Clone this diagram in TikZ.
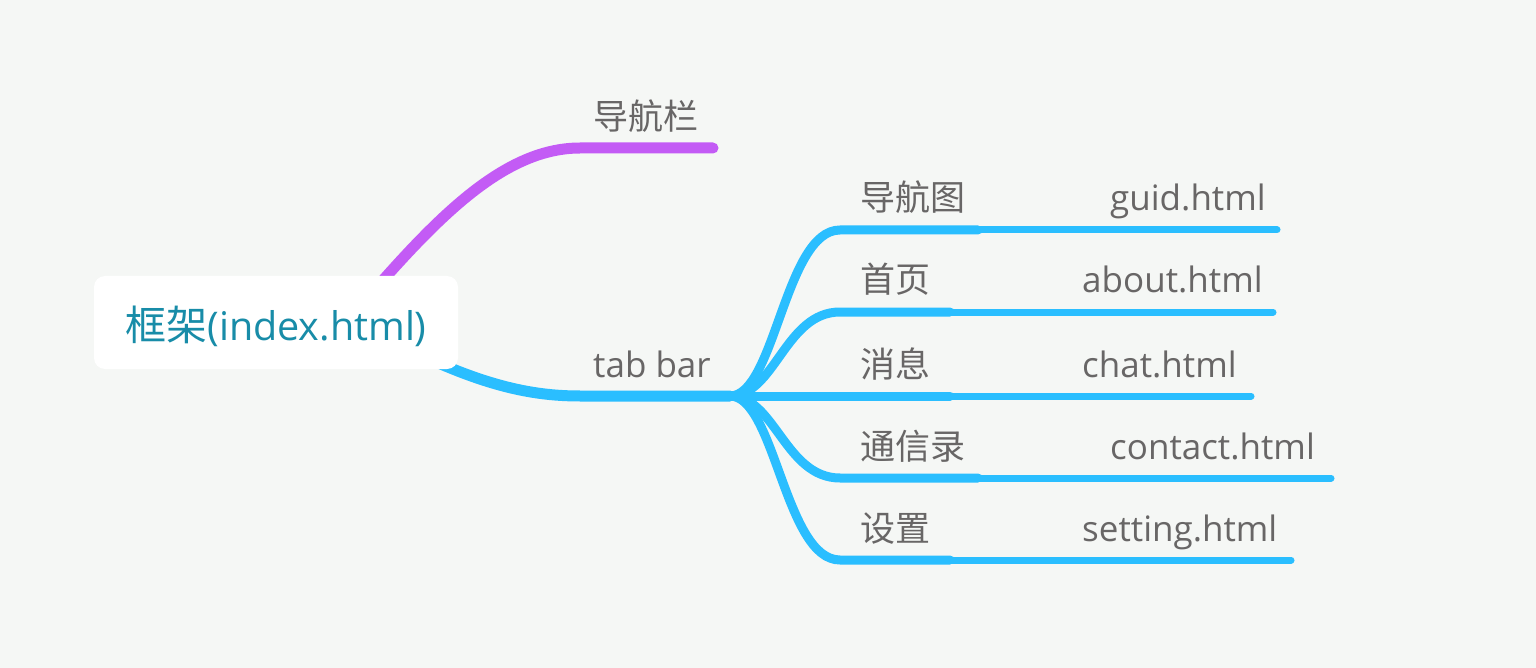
\documentclass[tikz,border=0pt]{standalone}
\usepackage{fontspec}
\setmainfont{Open Sans}
\newfontfamily\cjk{Noto Sans CJK SC}
\definecolor{bgc}{RGB}{245,247,245}
\definecolor{roottxt}{RGB}{24,140,168}
\definecolor{txtgray}{RGB}{104,102,102}
\definecolor{navpurple}{RGB}{195,91,245}
\definecolor{tabblue}{RGB}{42,190,255}
\pgfdeclarelayer{bglayer}
\pgfdeclarelayer{lines}
\pgfsetlayers{bglayer,lines,main}
\tikzset{
  rootbox/.style={fill=white, rounded corners=11pt, minimum width=364pt, minimum height=93pt,
    inner sep=0pt, text=roottxt, text height=40pt, text depth=5pt, font=\fontsize{39.5}{44}\selectfont},
  lbl/.style={anchor=base west, inner sep=0pt, text=txtgray, font=\fontsize{35}{40}\selectfont},
  cnlbl/.style={lbl, font=\fontsize{35}{40}\selectfont\cjk},
  purpleline/.style={draw=navpurple, line width=11pt, line cap=round},
  blueline/.style={draw=tabblue, line width=11pt, line cap=round},
  childline/.style={draw=tabblue, line width=9pt, line cap=round},
  leafline/.style={draw=tabblue, line width=7pt, line cap=round}
}
\begin{document}
\begin{tikzpicture}[x=1pt,y=-1pt]
\begin{pgfonlayer}{bglayer}
\fill[bgc] (0,0) rectangle (1536,668);
\end{pgfonlayer}
\useasboundingbox (0,0) rectangle (1536,668);

% nodes
\node[rootbox] (root) at (276,322.5) {{\cjk\fontsize{41}{44}\selectfont 框架}(index.html)};
\node[cnlbl] (nav) at (593,130) {导航栏};
\node[lbl] (tab) at (593,377) {tab bar};

\node[cnlbl] (c1) at (860,211) {导航图};
\node[cnlbl] (c2) at (860,293) {首页};
\node[cnlbl] (c3) at (860,377) {消息};
\node[cnlbl] (c4) at (860,459) {通信录};
\node[cnlbl] (c5) at (860,541) {设置};

\node[lbl] (g1) at (1110,211) {guid.html};
\node[lbl] (g2) at (1082,293) {about.html};
\node[lbl] (g3) at (1082,377) {chat.html};
\node[lbl] (g4) at (1110,459) {contact.html};
\node[lbl] (g5) at (1082,541) {setting.html};

% connector coordinates
\coordinate (navS) at (350,318);
\coordinate (navL) at (580,148);
\coordinate (navR) at (713,148);
\coordinate (tabS) at (400,345);
\coordinate (tabL) at (580,396);
\coordinate (fork) at (730,396);

\coordinate (cL1) at (840,230); \coordinate (cR1) at (978,230); \coordinate (gR1) at (1277,230);
\coordinate (cL2) at (840,312); \coordinate (cR2) at (950,312); \coordinate (gR2) at (1273,312);
\coordinate (cL3) at (840,396); \coordinate (cR3) at (950,396); \coordinate (gR3) at (1251,396);
\coordinate (cL4) at (840,478); \coordinate (cR4) at (978,478); \coordinate (gR4) at (1331,478);
\coordinate (cL5) at (840,560); \coordinate (cR5) at (950,560); \coordinate (gR5) at (1291,560);

\begin{pgfonlayer}{lines}
\draw[purpleline] (navS) .. controls +(80,-93) and +(-80,0) .. (navL) -- (navR);
\draw[blueline] (tabS) .. controls +(80,40) and +(-50,0) .. (tabL) -- (fork);
\foreach \i in {1,...,5}{
  \draw[leafline] (cR\i) -- (gR\i);
}
\foreach \i in {1,...,5}{
  \draw[childline] (fork) .. controls +(45,0) and +(-55,0) .. (cL\i) -- (cR\i);
}
\end{pgfonlayer}
\end{tikzpicture}
\end{document}
